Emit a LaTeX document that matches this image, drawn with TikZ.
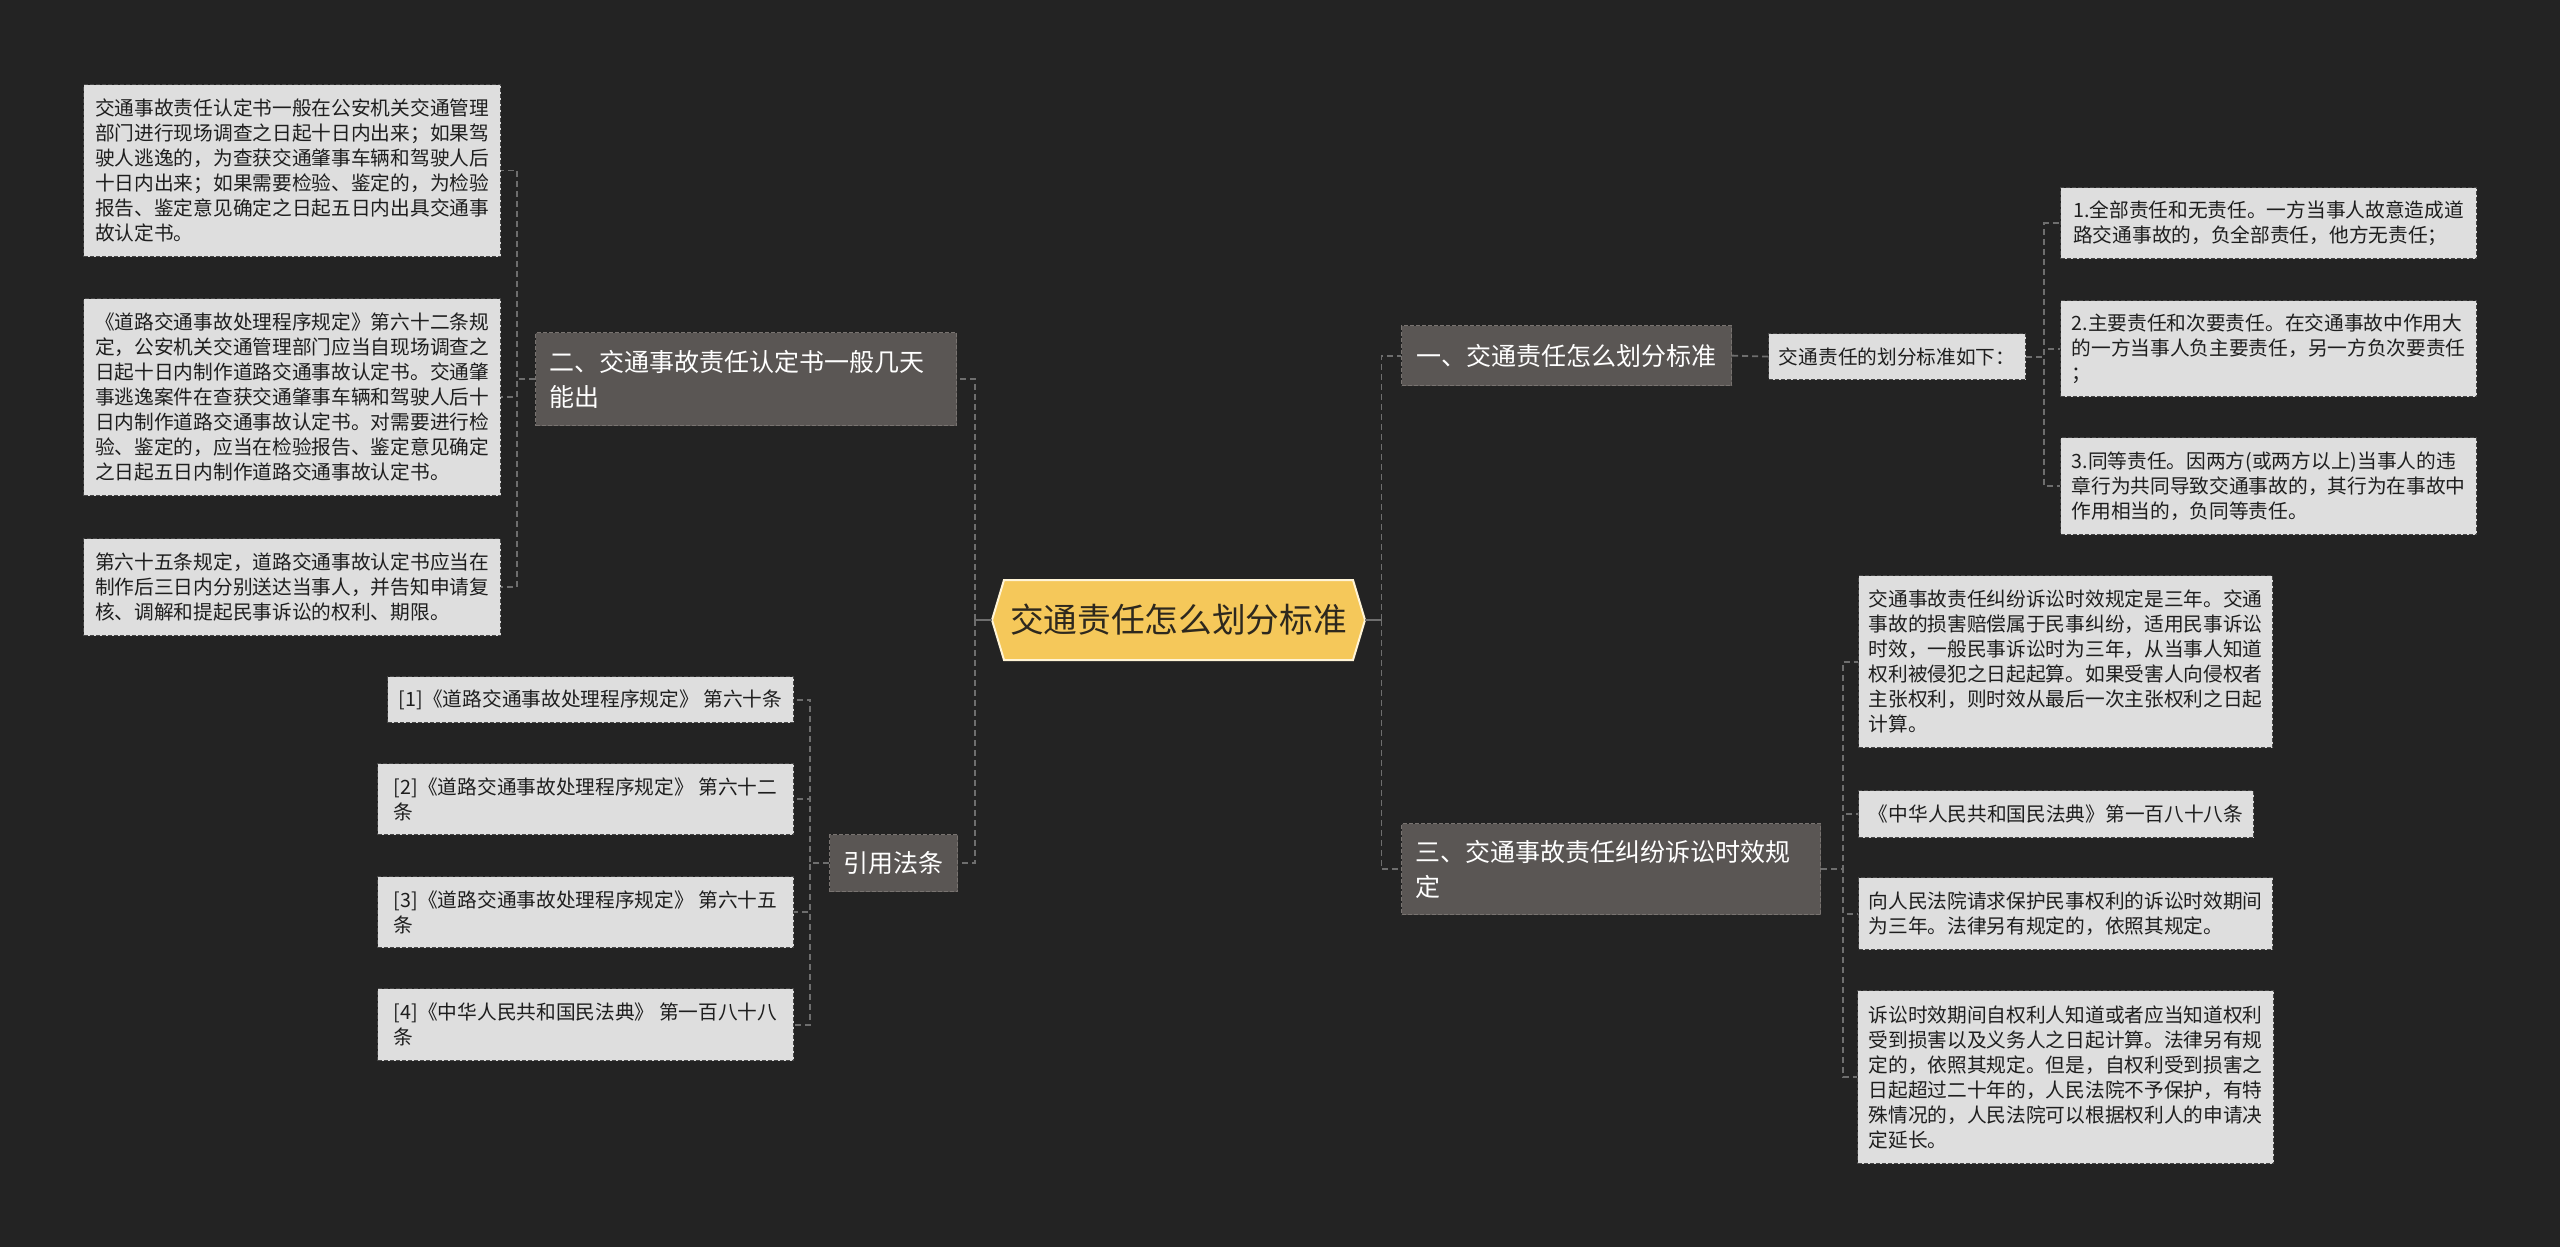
\documentclass[tikz,border=0pt]{standalone}
\usepackage{fontspec}
\setmainfont{Noto Sans CJK SC}
\definecolor{bgc}{RGB}{35,35,35}
\definecolor{leaffill}{RGB}{222,222,222}
\definecolor{leafline}{RGB}{70,70,70}
\definecolor{leaftext}{RGB}{30,30,30}
\definecolor{topicfill}{RGB}{90,86,84}
\definecolor{topicline}{RGB}{120,115,112}
\definecolor{cfill}{RGB}{245,200,90}
\definecolor{cline}{RGB}{255,244,214}
\definecolor{ctext}{RGB}{45,40,30}
\definecolor{connc}{RGB}{110,110,110}
\begin{document}
\begin{tikzpicture}[x=0.5pt,y=-0.5pt,
  leaf/.style={draw=leafline, fill=leaffill, dash pattern=on 2pt off 1pt, line width=0.6pt,
    text=leaftext, font=\fontsize{9.85pt}{12.5pt}\selectfont, align=left,
    inner xsep=5pt, inner ysep=0pt, anchor=north west},
  topic/.style={draw=topicline, fill=topicfill, dash pattern=on 2pt off 1pt, line width=0.6pt,
    text=white, font=\fontsize{12.5pt}{17.5pt}\selectfont, align=left,
    inner xsep=7pt, inner ysep=0pt, anchor=north west},
  central/.style={text=ctext, font=\fontsize{16.85pt}{20pt}\selectfont, inner sep=0pt,
    minimum width=186.5pt, minimum height=40pt},
  conn/.style={draw=connc, line width=0.9pt, dash pattern=on 3pt off 2pt},
  stub/.style={draw=connc, line width=0.9pt}
]
\useasboundingbox (0,0) rectangle (2560,1247);
\fill[bgc] (0,0) rectangle (2560,1247);

% central
\filldraw[fill=cfill, draw=cline, line width=1pt] (992,620) -- (1004,580) -- (1353,580) -- (1365,620) -- (1353,660) -- (1004,660) -- cycle;
\node[central] (c) at (1178.5,620) {交通责任怎么划分标准};

% left topics
\node[topic, text width=196.5pt, minimum height=46.5pt] (n2) at (535,332) {二、交通事故责任认定书一般几天\\能出};
\node[topic, minimum width=63pt, minimum height=28.5pt] (n4) at (829,834) {引用法条};

% left leaves
\node[leaf, minimum width=208.5pt, minimum height=86pt] (L1) at (83,84) {交通事故责任认定书一般在公安机关交通管理\\部门进行现场调查之日起十日内出来；如果驾\\驶人逃逸的，为查获交通肇事车辆和驾驶人后\\十日内出来；如果需要检验、鉴定的，为检验\\报告、鉴定意见确定之日起五日内出具交通事\\故认定书。};
\node[leaf, minimum width=208.5pt, minimum height=98.5pt] (L2) at (83,298) {《道路交通事故处理程序规定》第六十二条规\\定，公安机关交通管理部门应当自现场调查之\\日起十日内制作道路交通事故认定书。交通肇\\事逃逸案件在查获交通肇事车辆和驾驶人后十\\日内制作道路交通事故认定书。对需要进行检\\验、鉴定的，应当在检验报告、鉴定意见确定\\之日起五日内制作道路交通事故认定书。};
\node[leaf, minimum width=208.5pt, minimum height=48.5pt] (L3) at (83,538) {第六十五条规定，道路交通事故认定书应当在\\制作后三日内分别送达当事人，并告知申请复\\核、调解和提起民事诉讼的权利、期限。};

\node[leaf, minimum width=203pt, minimum height=23pt] (C1) at (387,676) {[1]《道路交通事故处理程序规定》 第六十条};
\node[leaf, minimum width=208pt, minimum height=35.5pt] (C2) at (377,763) {[2]《道路交通事故处理程序规定》 第六十二\\条};
\node[leaf, minimum width=208pt, minimum height=35.5pt] (C3) at (377,876) {[3]《道路交通事故处理程序规定》 第六十五\\条};
\node[leaf, minimum width=208pt, minimum height=36pt] (C4) at (377,988) {[4]《中华人民共和国民法典》 第一百八十八\\条};

% right topics
\node[topic, minimum width=165pt, minimum height=30pt] (n1) at (1401,325) {一、交通责任怎么划分标准};
\node[topic, text width=195.5pt, minimum height=45.5pt] (n3) at (1401,823) {三、交通事故责任纠纷诉讼时效规\\定};

% right leaves
\node[leaf, minimum width=128.5pt, minimum height=23pt] (R0) at (1768,333) {交通责任的划分标准如下：};
\node[leaf, minimum width=208pt, minimum height=35.5pt] (R1) at (2060,187) {1.全部责任和无责任。一方当事人故意造成道\\路交通事故的，负全部责任，他方无责任；};
\node[leaf, minimum width=208pt, minimum height=48pt] (R2) at (2060,300) {2.主要责任和次要责任。在交通事故中作用大\\的一方当事人负主要责任，另一方负次要责任\\；};
\node[leaf, minimum width=208pt, minimum height=48.5pt] (R3) at (2060,437) {3.同等责任。因两方(或两方以上)当事人的违\\章行为共同导致交通事故的，其行为在事故中\\作用相当的，负同等责任。};

\node[leaf, minimum width=206.5pt, minimum height=86pt] (A) at (1858,575) {交通事故责任纠纷诉讼时效规定是三年。交通\\事故的损害赔偿属于民事纠纷，适用民事诉讼\\时效，一般民事诉讼时为三年，从当事人知道\\权利被侵犯之日起起算。如果受害人向侵权者\\主张权利，则时效从最后一次主张权利之日起\\计算。};
\node[leaf, minimum width=197.5pt, minimum height=23.5pt] (B) at (1858,790) {《中华人民共和国民法典》第一百八十八条};
\node[leaf, minimum width=206.5pt, minimum height=36pt] (Cc) at (1858,877) {向人民法院请求保护民事权利的诉讼时效期间\\为三年。法律另有规定的，依照其规定。};
\node[leaf, minimum width=208pt, minimum height=86.5pt] (D) at (1857,990) {诉讼时效期间自权利人知道或者应当知道权利\\受到损害以及义务人之日起计算。法律另有规\\定的，依照其规定。但是，自权利受到损害之\\日起超过二十年的，人民法院不予保护，有特\\殊情况的，人民法院可以根据权利人的申请决\\定延长。};

% connectors: central
\draw[stub] (c.west) -- ++(-17,0);
\draw[conn] (c.west) ++(-17,0) |- (n2.east);
\draw[conn] (c.west) ++(-17,0) |- (n4.east);
\draw[stub] (c.east) -- ++(16,0);
\draw[conn] (c.east) ++(16,0) |- (n1.west);
\draw[conn] (c.east) ++(16,0) |- (n3.west);

% left branch
\draw[conn] (n2.west) -- ++(-18,0) |- (L1.east);
\draw[conn] (n2.west) -- ++(-18,0) |- (L2.east);
\draw[conn] (n2.west) -- ++(-18,0) |- (L3.east);

\draw[conn] (n4.west) -- ++(-19,0) |- (C1.east);
\draw[conn] (n4.west) -- ++(-19,0) |- (C2.east);
\draw[conn] (n4.west) -- ++(-19,0) |- (C3.east);
\draw[conn] (n4.west) -- ++(-19,0) |- (C4.east);

% right branch
\draw[conn] (n1.east) -- (R0.west);
\draw[conn] (R0.east) -- ++(18,0) |- (R1.west);
\draw[conn] (R0.east) -- ++(18,0) |- (R2.west);
\draw[conn] (R0.east) -- ++(18,0) |- (R3.west);

\draw[conn] (n3.east) -- ++(22,0) |- (A.west);
\draw[conn] (n3.east) -- ++(22,0) |- (B.west);
\draw[conn] (n3.east) -- ++(22,0) |- (Cc.west);
\draw[conn] (n3.east) -- ++(22,0) |- (D.west);
\end{tikzpicture}
\end{document}
